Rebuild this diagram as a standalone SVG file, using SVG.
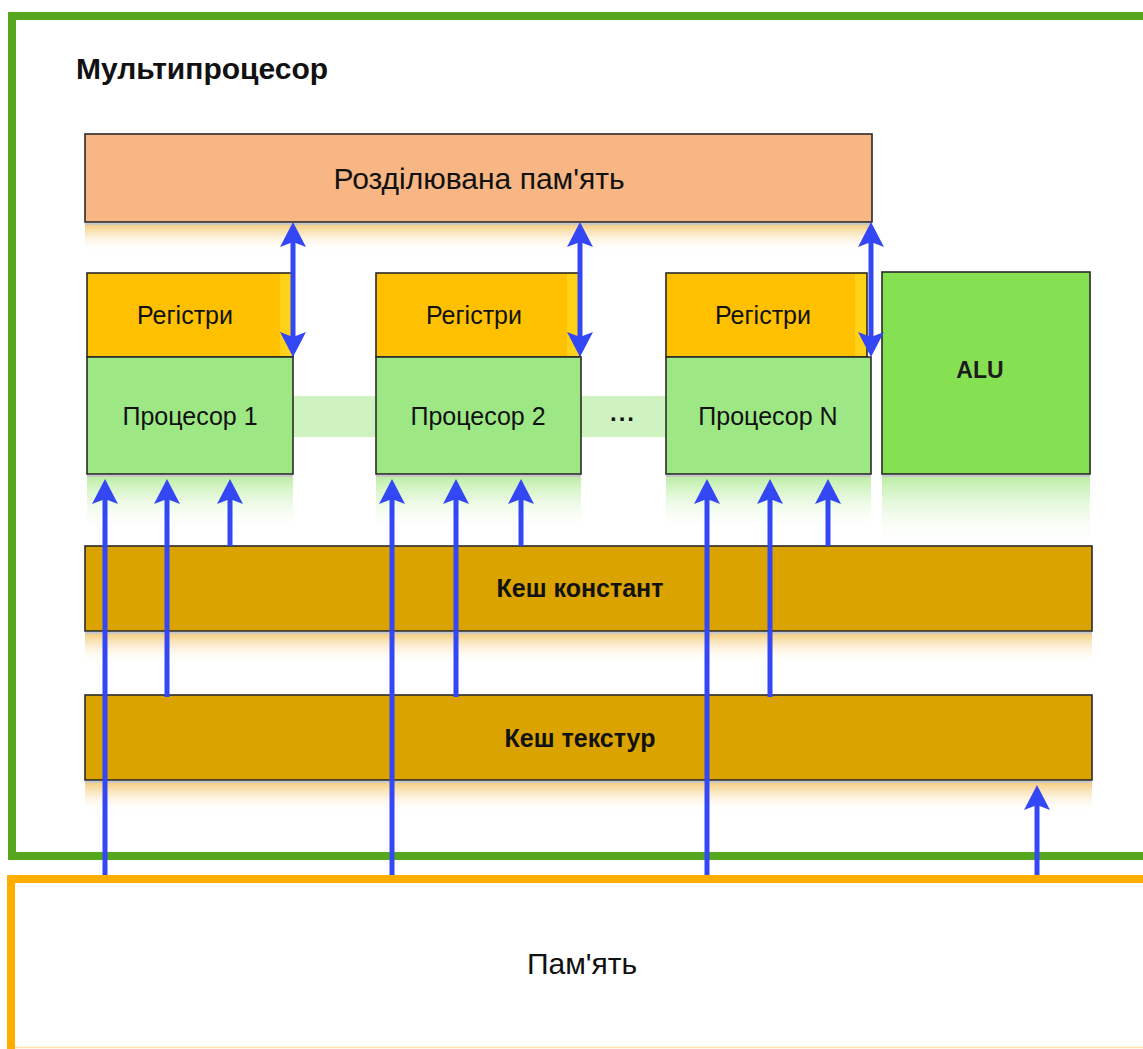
<svg xmlns="http://www.w3.org/2000/svg" width="1143" height="1049" viewBox="0 0 1143 1049">
  <style>
    .lbl { font-family: "Liberation Sans", Arial, sans-serif; fill: #111; text-anchor: middle; }
    .reg { font-size: 25px; }
    .cache { font-size: 25px; font-weight: bold; }
    .box { stroke: #2a2a2a; stroke-width: 1.6; }
    .regs { fill: #FFC000; }
    .proc { fill: #9DE884; }
    .cachebox { fill: #DAA300; }
    .arrow { stroke: #3447F5; stroke-width: 5; fill: none; }
    .shade { fill: #c8c8c8; }
  </style>
  <defs>
    <marker id="head" viewBox="0 0 25 26" refX="10" refY="13" markerWidth="25" markerHeight="26" markerUnits="userSpaceOnUse" orient="auto-start-reverse">
      <path d="M25,13 L0,0 L5,13 L0,26 Z" fill="#3447F5"/>
    </marker>
    <linearGradient id="fadeYellow" x1="0" y1="0" x2="0" y2="1">
      <stop offset="0" stop-color="#F3C66C" stop-opacity="0.85"/>
      <stop offset="1" stop-color="#FFFFFF" stop-opacity="0"/>
    </linearGradient>
    <linearGradient id="fadeGreen" x1="0" y1="0" x2="0" y2="1">
      <stop offset="0" stop-color="#B6EC9C" stop-opacity="0.9"/>
      <stop offset="1" stop-color="#FFFFFF" stop-opacity="0"/>
    </linearGradient>
  </defs>

  <rect width="1143" height="1049" fill="#FFFFFF"/>

  <!-- multiprocessor frame -->
  <g id="multiprocessor">
    <rect x="12" y="16" width="1160" height="840" fill="none" stroke="#56A61E" stroke-width="8"/>
    <text x="76" y="79" class="lbl" style="text-anchor:start;font-size:30px;font-weight:bold">Мультипроцесор</text>
  </g>

  <!-- device memory frame -->
  <g id="memory">
    <rect x="11" y="879" width="1160" height="176" fill="none" stroke="#FFAE00" stroke-width="8"/>
    <line x1="15" y1="1047.5" x2="1143" y2="1047.5" stroke="#FFE3A8" stroke-width="1.5"/>
    <text x="582" y="974" class="lbl" style="font-size:30px">Пам'ять</text>
  </g>

  <!-- shared memory -->
  <g id="shared-memory">
    <rect x="85" y="223" width="787" height="2" class="shade"/>
    <rect x="85" y="225" width="787" height="27" fill="url(#fadeYellow)"/>
    <rect x="85" y="134" width="787" height="88" fill="#F7B683" class="box"/>
    <text x="479" y="189" class="lbl" style="font-size:30px">Розділювана пам'ять</text>
  </g>

  <!-- processor links -->
  <g id="links">
    <rect x="293" y="396" width="83" height="41" fill="#9DE884" opacity="0.5"/>
    <rect x="580" y="396" width="86" height="41" fill="#9DE884" opacity="0.5"/>
    <text x="623" y="421" class="lbl" style="font-size:24px;font-weight:bold;letter-spacing:2px">...</text>
  </g>

  <!-- processor 1 -->
  <g id="processor-1">
    <rect x="87" y="475" width="206" height="2" class="shade"/>
    <rect x="87" y="477" width="206" height="55" fill="url(#fadeGreen)"/>
    <rect x="87" y="273" width="206" height="84" class="regs box"/>
    <rect x="280" y="274" width="12" height="82" fill="#FFD21A"/>
    <rect x="87" y="357" width="206" height="117" class="proc box"/>
    <text x="185" y="324" class="lbl reg">Регістри</text>
    <text x="190" y="425" class="lbl reg">Процесор 1</text>
  </g>

  <!-- processor 2 -->
  <g id="processor-2">
    <rect x="376" y="475" width="205" height="2" class="shade"/>
    <rect x="376" y="477" width="205" height="55" fill="url(#fadeGreen)"/>
    <rect x="376" y="273" width="204" height="84" class="regs box"/>
    <rect x="567" y="274" width="12" height="82" fill="#FFD21A"/>
    <rect x="376" y="357" width="205" height="117" class="proc box"/>
    <text x="474" y="324" class="lbl reg">Регістри</text>
    <text x="478" y="425" class="lbl reg">Процесор 2</text>
  </g>

  <!-- processor N -->
  <g id="processor-n">
    <rect x="666" y="475" width="205" height="2" class="shade"/>
    <rect x="666" y="477" width="205" height="55" fill="url(#fadeGreen)"/>
    <rect x="666" y="273" width="201" height="84" class="regs box"/>
    <rect x="855" y="274" width="11" height="82" fill="#FFD21A"/>
    <rect x="666" y="357" width="205" height="117" class="proc box"/>
    <text x="763" y="324" class="lbl reg">Регістри</text>
    <text x="768" y="425" class="lbl reg">Процесор N</text>
  </g>

  <!-- ALU -->
  <g id="alu">
    <rect x="882" y="475" width="208" height="2" class="shade"/>
    <rect x="882" y="477" width="208" height="70" fill="url(#fadeGreen)"/>
    <rect x="882" y="272" width="208" height="202" fill="#86E152" class="box"/>
    <text x="980" y="378" class="lbl" style="font-size:23px;font-weight:bold;fill:#1c1c1c">ALU</text>
  </g>

  <!-- constant cache -->
  <g id="constant-cache">
    <rect x="85" y="632" width="1007" height="2" class="shade"/>
    <rect x="85" y="634" width="1007" height="30" fill="url(#fadeYellow)"/>
    <rect x="85" y="546" width="1007" height="85" class="cachebox box"/>
    <text x="580" y="597" class="lbl cache">Кеш констант</text>
  </g>

  <!-- texture cache -->
  <g id="texture-cache">
    <rect x="85" y="781" width="1007" height="2" class="shade"/>
    <rect x="85" y="783" width="1007" height="30" fill="url(#fadeYellow)"/>
    <rect x="85" y="695" width="1007" height="85" class="cachebox box"/>
    <text x="580" y="747" class="lbl cache">Кеш текстур</text>
  </g>

  <!-- data paths -->
  <g id="connectors" class="arrow" marker-end="url(#head)">
    <!-- shared memory <-> registers -->
    <path d="M293,237 V342" marker-start="url(#head)"/>
    <path d="M580,237 V342" marker-start="url(#head)"/>
    <path d="M871,237 V342" marker-start="url(#head)"/>
    <!-- processor 1 inputs -->
    <path d="M105,875 V494"/>
    <path d="M167,697 V494"/>
    <path d="M230,546 V494"/>
    <!-- processor 2 inputs -->
    <path d="M392,875 V494"/>
    <path d="M456,697 V494"/>
    <path d="M521,546 V494"/>
    <!-- processor N inputs -->
    <path d="M707,875 V494"/>
    <path d="M770,697 V494"/>
    <path d="M828,546 V494"/>
    <!-- memory -> texture cache -->
    <path d="M1037,875 V800"/>
  </g>
</svg>
